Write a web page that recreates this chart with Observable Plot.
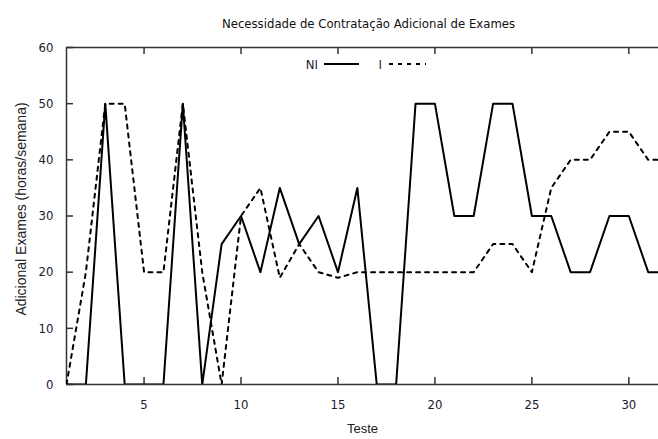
<!DOCTYPE html>
<html>
<head>
<meta charset="utf-8">
<script src="https://cdn.jsdelivr.net/npm/d3@7"></script>
<script src="https://cdn.jsdelivr.net/npm/@observablehq/plot@0.6"></script>
<style>
  html, body { margin: 0; padding: 0; background: white; }
  #wrap { position: relative; width: 658px; height: 439px; }
  #legend { position: absolute; left: 0; top: 0; pointer-events: none; }
</style>
</head>
<body>
<div id="wrap"></div>
<script>
const title = "Necessidade de Contratação Adicional de Exames";
const xLabel = "Teste";
const yLabel = "Adicional Exames (horas/semana)";
const seriesNames = ["NI", "I"];
const testes = [1,2,3,4,5,6,7,8,9,10,11,12,13,14,15,16,17,18,19,20,21,22,23,24,25,26,27,28,29,30,31,32];
const niValues = [0,0,50,0,0,0,50,0,25,30,20,35,25,30,20,35,0,0,50,50,30,30,50,50,30,30,20,20,30,30,20,20];
const iValues = [0,20,50,50,20,20,50,20,0,30,35,19,25,20,19,20,20,20,20,20,20,20,25,25,20,35,40,40,45,45,40,40];
const xTicks = [5,10,15,20,25,30];
const yTicks = [0,10,20,30,40,50,60];

const data = testes.map((t, k) => ({teste: t, ni: niValues[k], i: iValues[k]}));

const condensed = "'DejaVu Sans Condensed', 'DejaVu Sans', sans-serif";
const arial = "'Liberation Sans', Arial, sans-serif";
const frameColor = "#333";

const chart = Plot.plot({
  width: 658,
  height: 439,
  marginTop: 47,
  marginBottom: 55,
  marginLeft: 66,
  marginRight: 0,
  style: {background: "white", color: "#1a1a2e", fontFamily: condensed, fontSize: "12px"},
  x: {domain: [1, 31.53], label: null},
  y: {domain: [0, 60], label: null},
  marks: [
    Plot.axisX(xTicks, {tickSize: 0, tickPadding: 15, fontSize: 13, fontFamily: condensed}),
    Plot.axisY(yTicks, {tickSize: 0, tickPadding: 13, fontSize: 13, fontFamily: condensed}),
    Plot.tickX(xTicks, {x: d => d, insetTop: 330, stroke: frameColor, strokeWidth: 1.5}),
    Plot.tickX(xTicks, {x: d => d, insetBottom: 330, stroke: frameColor, strokeWidth: 1.5}),
    Plot.tickY(yTicks, {y: d => d, insetRight: 585, stroke: frameColor, strokeWidth: 1.5}),
    Plot.ruleY([0, 60], {stroke: frameColor, strokeWidth: 1.5}),
    Plot.ruleX([1], {stroke: frameColor, strokeWidth: 1.5}),
    Plot.line(data, {x: "teste", y: "ni", stroke: "black", strokeWidth: 2, clip: true}),
    Plot.line(data, {x: "teste", y: "i", stroke: "black", strokeWidth: 2, strokeDasharray: "4,5", clip: true}),
    Plot.text([title], {frameAnchor: "top", dy: -29, dx: 6, fontSize: 13, fontFamily: condensed, fill: "#111"}),
    Plot.text([xLabel], {frameAnchor: "bottom", dy: 48, fontSize: 13, fontFamily: arial, fill: "#222"}),
    Plot.text([yLabel], {frameAnchor: "left", textAnchor: "middle", rotate: -90, dx: -45, dy: -7, fontSize: 14, fontFamily: arial, fill: "#222"})
  ]
});

const wrap = document.getElementById("wrap");
wrap.appendChild(chart);

// Legend overlay
const ns = "http://www.w3.org/2000/svg";
const leg = document.createElementNS(ns, "svg");
leg.setAttribute("id", "legend");
leg.setAttribute("width", 658);
leg.setAttribute("height", 100);
const entries = [
  {name: seriesNames[0], textX: 318, x1: 324, x2: 359, dash: null},
  {name: seriesNames[1], textX: 382, x1: 389, x2: 426, dash: "4,5"}
];
for (const e of entries) {
  const t = document.createElementNS(ns, "text");
  t.setAttribute("x", e.textX);
  t.setAttribute("y", 64);
  t.setAttribute("text-anchor", "end");
  t.setAttribute("dominant-baseline", "central");
  t.setAttribute("font-family", condensed);
  t.setAttribute("font-size", 13);
  t.setAttribute("fill", "#1a1a2e");
  t.textContent = e.name;
  leg.appendChild(t);
  const l = document.createElementNS(ns, "line");
  l.setAttribute("x1", e.x1);
  l.setAttribute("x2", e.x2);
  l.setAttribute("y1", 64);
  l.setAttribute("y2", 64);
  l.setAttribute("stroke", "black");
  l.setAttribute("stroke-width", 2);
  if (e.dash) l.setAttribute("stroke-dasharray", e.dash);
  leg.appendChild(l);
}
wrap.appendChild(leg);
</script>
</body>
</html>
